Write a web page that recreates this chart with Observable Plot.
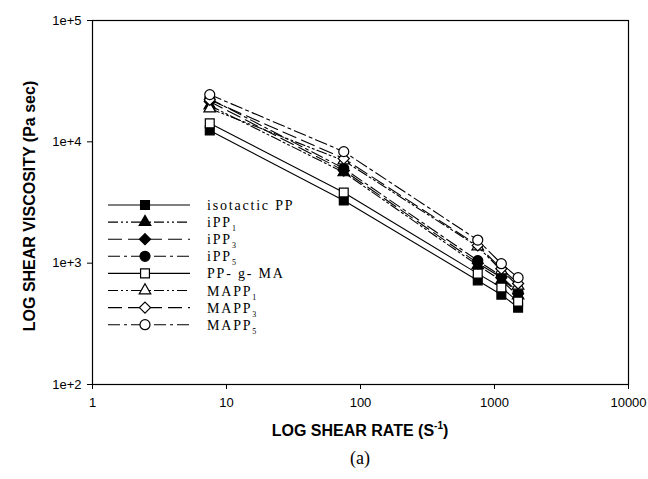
<!DOCTYPE html>
<html>
<head>
<meta charset="utf-8">
<script src="https://cdn.jsdelivr.net/npm/d3@7"></script>
<script src="https://cdn.jsdelivr.net/npm/@observablehq/plot@0.6"></script>
<style>
  html, body { margin: 0; padding: 0; background: #fff; }
  #chart svg { display: block; }
</style>
</head>
<body>
<div id="chart"></div>
<script>
// ---- data ----
const shearRate = [7.5, 75, 750, 1125, 1500];
const isotacticPP = [12400, 3280, 720, 550, 430];
const iPP1 = [19900, 5600, 960, 720, 540];
const iPP3 = [21500, 5800, 1000, 760, 560];
const iPP5 = [22700, 6040, 1050, 780, 573];
const ppgMA = [14200, 3820, 820, 630, 482];
const MAPP1 = [18800, 7000, 1370, 870, 650];
const MAPP3 = [22200, 7280, 1400, 900, 680];
const MAPP5 = [24500, 8300, 1550, 990, 760];

const xTicks = [1, 10, 100, 1000, 10000];
const yTicks = [100, 1000, 10000, 100000];

const seriesNames = ["isotactic PP", "iPP1", "iPP3", "iPP5", "PP-g-MA", "MAPP1", "MAPP3", "MAPP5"];
const seriesValues = [isotacticPP, iPP1, iPP3, iPP5, ppgMA, MAPP1, MAPP3, MAPP5];
const seriesSymbol = ["square", "triangle", "diamond2", "circle", "square", "triangle", "diamond2", "circle"];
const seriesFill = ["black", "black", "black", "black", "white", "white", "white", "white"];
const seriesDash = [null, "10,3,2,3,2,3", "14,6", "12,4,3,4", null, "10,3,2,3,2,3", "14,6", "12,4,3,4"];
const legendBase = ["isotactic PP", "iPP", "iPP", "iPP", "PP- g- MA", "MAPP", "MAPP", "MAPP"];
const legendSub = ["", "1", "3", "5", "", "1", "3", "5"];

const rows = [];
seriesNames.forEach((name, i) => {
  seriesValues[i].forEach((v, j) => rows.push({series: name, idx: i, rate: shearRate[j], visc: v}));
});

const symR = s => (s === "triangle" ? 4.3 : 5);

const marks = [];
seriesNames.forEach((name, i) => {
  const d = rows.filter(r => r.idx === i);
  marks.push(Plot.line(d, {x: "rate", y: "visc", stroke: "black", strokeWidth: 1.1, strokeDasharray: seriesDash[i] || undefined}));
});
seriesNames.forEach((name, i) => {
  const d = rows.filter(r => r.idx === i);
  marks.push(Plot.dot(d, {x: "rate", y: "visc", symbol: () => seriesSymbol[i], r: symR(seriesSymbol[i]), fill: seriesFill[i], stroke: "black", strokeWidth: 1.2}));
});

const plot = Plot.plot({
  width: 648,
  height: 479,
  marginLeft: 92,
  marginRight: 20,
  marginTop: 20,
  marginBottom: 95,
  style: {fontFamily: "Liberation Sans, Arial, sans-serif", fontSize: "13px", color: "black", background: "white"},
  x: {type: "log", domain: [1, 10000]},
  y: {type: "log", domain: [100, 100000]},
  marks: [
    Plot.axisX({ticks: xTicks, tickFormat: d => String(d), tickSize: 5, tickPadding: 8, label: null, fontSize: 13}),
    Plot.axisY({ticks: yTicks, tickFormat: d => "1e+" + Math.round(Math.log10(d)), tickSize: 5, tickPadding: 6, label: null, fontSize: 13}),
    Plot.frame({stroke: "black", strokeWidth: 1.2}),
    ...marks
  ]
});

const svg = d3.select(plot);
// axis titles
svg.append("text")
  .attr("transform", "translate(35,206) rotate(-90)")
  .attr("text-anchor", "middle")
  .attr("font-family", "Liberation Sans, Arial, sans-serif")
  .attr("font-weight", "bold")
  .attr("font-size", 16)
  .text("LOG SHEAR VISCOSITY (Pa sec)");
const xt = svg.append("text")
  .attr("x", 360).attr("y", 436)
  .attr("text-anchor", "middle")
  .attr("font-family", "Liberation Sans, Arial, sans-serif")
  .attr("font-weight", "bold")
  .attr("font-size", 16);
xt.append("tspan").text("LOG SHEAR RATE (S");
xt.append("tspan").attr("dy", -7).attr("font-size", 10).text("-1");
xt.append("tspan").attr("dy", 7).text(")");
svg.append("text")
  .attr("x", 360).attr("y", 464)
  .attr("text-anchor", "middle")
  .attr("font-family", "Liberation Serif, Times New Roman, serif")
  .attr("font-size", 18)
  .text("(a)");

// legend
const lg = svg.append("g");
seriesNames.forEach((name, i) => {
  const y = 205 + i * 17.1;
  const line = lg.append("line").attr("x1", 108).attr("x2", 190).attr("y1", y).attr("y2", y)
    .attr("stroke", "black").attr("stroke-width", 1.1);
  if (seriesDash[i]) line.attr("stroke-dasharray", seriesDash[i]);
  const sym = {square: d3.symbolSquare, triangle: d3.symbolTriangle, diamond2: d3.symbolDiamond2, circle: d3.symbolCircle}[seriesSymbol[i]];
  const rr = symR(seriesSymbol[i]);
  lg.append("path").attr("d", d3.symbol(sym, Math.PI * rr * rr)())
    .attr("transform", `translate(145,${y})`)
    .attr("fill", seriesFill[i]).attr("stroke", "black").attr("stroke-width", 1.2);
  const t = lg.append("text").attr("x", 207).attr("y", y + 5)
    .attr("text-anchor", "start")
    .attr("font-family", "Liberation Serif, Times New Roman, serif")
    .attr("font-size", 14).attr("letter-spacing", 1.8);
  t.append("tspan").text(legendBase[i]);
  if (legendSub[i]) t.append("tspan").attr("dy", 4).attr("font-size", 8).text(legendSub[i]);
});

document.getElementById("chart").appendChild(plot);
</script>
</body>
</html>
